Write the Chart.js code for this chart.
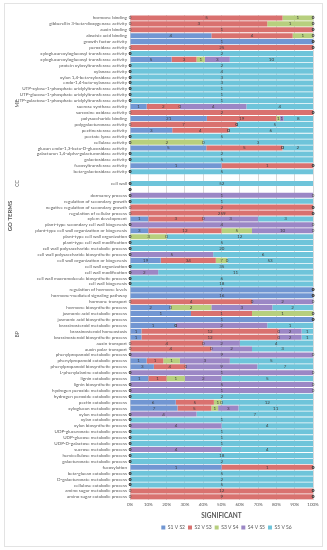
<!DOCTYPE html>
<html>
<head>
<meta charset="utf-8">
<script src="https://cdn.jsdelivr.net/npm/chart.js@4/dist/chart.umd.min.js"></script>
<style>
  body { margin: 0; background: #fff; }
  #wrap { width: 327px; height: 550px; }
</style>
</head>
<body>
<div id="wrap"><canvas id="go_chart" width="327" height="550"></canvas></div>
<script>
var categories = [
    'hormone binding', 'gibberellin 3-beta-dioxygenase activity', 'auxin binding', 'abscisic acid binding',
    'growth factor activity', 'peroxidase activity', 'xyloglucan:xyloglucosyl transferase activity',
    'xyloglucan:xyloglucosyl transferase activity', 'protein xylosyltransferase activity', 'xylanase activity',
    'xylan 1,4-beta-xylosidase activity', 'endo-1,4-beta-xylanase activity',
    'UTP-xylose-1-phosphate uridylyltransferase activity', 'UTP-glucose-1-phosphate uridylyltransferase activity',
    'UTP-galactose-1-phosphate uridylyltransferase activity', 'sucrose synthase activity',
    'sarcosine oxidase activity', 'polysaccharide binding', 'polygalacturonase activity',
    'pectinesterase activity', 'pectate lyase activity', 'cellulase activity',
    'glucan endo-1,3-beta-D-glucosidase activity', 'galacturan 1,4-alpha-galacturonidase activity',
    'galactosidase activity', 'fucosyltransferase activity', 'beta-galactosidase activity',
    '', 'cell wall', '',
    'dormancy process', 'regulation of secondary growth', 'negative regulation of secondary growth',
    'regulation of cellular process', 'xylem development', 'plant-type secondary cell wall biogenesis',
    'plant-type cell wall organization or biogenesis', 'plant-type cell wall organization',
    'plant-type cell wall modification', 'cell wall polysaccharide metabolic process',
    'cell wall polysaccharide biosynthetic process', 'cell wall organization or biogenesis',
    'cell wall organization', 'cell wall modification', 'cell wall macromolecule biosynthetic process',
    'cell wall biogenesis', 'regulation of hormone levels', 'hormone-mediated signaling pathway',
    'hormone transport', 'hormone biosynthetic process', 'jasmonic acid metabolic process',
    'jasmonic acid biosynthetic process', 'brassinosteroid metabolic process', 'brassinosteroid homeostasis',
    'brassinosteroid biosynthetic process', 'auxin transport', 'auxin polar transport',
    'phenylpropanoid metabolic process', 'phenylpropanoid catabolic process',
    'phenylpropanoid biosynthetic process', 'L-phenylalanine catabolic process', 'lignin catabolic process',
    'lignin biosynthetic process', 'hydrogen peroxide metabolic process', 'hydrogen peroxide catabolic process',
    'pectin catabolic process', 'xyloglucan metabolic process', 'xylan metabolic process',
    'xylan catabolic process', 'xylan biosynthetic process', 'UDP-glucuronate metabolic process',
    'UDP-glucose metabolic process', 'UDP-D-galactose metabolic process', 'sucrose metabolic process',
    'hemicellulose metabolic process', 'galacturonate metabolic process', 'fucosylation',
    'beta-glucan catabolic process', 'D-galacturonate metabolic process', 'cellulose catabolic process',
    'amino sugar metabolic process', 'amino sugar catabolic process'
];

// counts per comparison, one entry per category (null = empty spacer row)
var s1_s2 = [0,0,0,4,1,0,0,5,0,0,0,0,0,0,0,1,0,21,0,3,0,0,5,0,0,1,0, null,0,0,
    0,0,0,0,1,0,3,0,0,0,0,19,0,0,0,0,7,16,0,2,1,1,1,1,1,0,0,0,1,3,0,1,0,0,0,6,7,0,0,0,0,0,0,0,0,0,1,0,0,0,0,0];
var s2_s3 = [5,3,1,4,0,25,0,3,0,0,0,0,0,0,0,2,2,19,7,4,0,0,5,0,0,1,0, null,0,0,
    0,0,2,259,3,0,12,0,0,0,0,34,0,0,0,0,0,0,4,0,1,0,0,12,12,4,4,0,1,4,0,1,0,0,0,5,5,0,0,0,0,0,0,0,0,0,1,0,0,0,12,9];
var s3_s4 = [1,1,0,1,0,0,0,1,0,0,0,0,0,0,0,0,0,1,0,0,0,2,0,0,0,0,0, null,0,0,
    0,0,0,0,0,0,5,3,0,0,0,7,0,0,0,0,0,0,0,2,1,0,0,0,0,0,0,0,1,0,0,1,0,0,0,1,1,0,0,0,0,0,0,0,0,0,0,0,0,0,0,0];
var s4_s5 = [0,0,0,0,0,0,0,3,0,0,0,0,0,0,0,4,0,1,0,0,0,0,0,0,0,0,0, null,0,0,
    1,0,0,0,3,4,10,0,0,0,5,0,0,2,0,0,0,0,2,3,0,0,2,2,2,2,2,9,3,9,1,2,5,1,0,0,3,4,0,4,0,0,0,4,0,0,0,0,0,0,0,0];
var s5_s6 = [0,0,0,0,0,0,2,10,2,4,3,3,1,1,1,4,0,8,5,6,5,3,2,2,5,0,5, null,52,0,
    0,1,0,0,3,0,0,12,5,20,6,53,35,11,6,18,0,0,0,2,0,0,1,1,1,4,3,0,5,7,0,5,0,0,2,12,11,7,1,4,1,1,1,4,18,2,0,5,2,5,0,0];

var seriesNames = ['S1 V S2', 'S2 V S3', 'S3 V S4', 'S4 V S5', 'S5 V S6'];
var seriesColors = ['#7196d2', '#d9716f', '#b7cf7e', '#9b87c5', '#6ec4da'];

var groupNames = ['MF', 'CC', 'BP'];
var groupCentreRows = [14.5, 28, 53.5];

function init(){
    var allCounts = [s1_s2, s2_s3, s3_s4, s4_s5, s5_s6];

    // turn counts into row shares so the bars fill 100%
    var totals = categories.map(function(c, j){
        var t = 0;
        allCounts.forEach(function(s){ if (s[j] != null) t += s[j]; });
        return t;
    });
    var datasets = allCounts.map(function(s, i){
        return {
            label: seriesNames[i],
            data: s.map(function(v, j){
                if (v == null) return null;
                return totals[j] ? v / totals[j] * 100 : 0;
            }),
            counts: s,
            backgroundColor: seriesColors[i],
            barPercentage: 0.86,
            categoryPercentage: 1
        };
    });

    var frame = {
        id: 'frame',
        beforeDraw: function(chart){
            var c = chart.ctx;
            c.save();
            c.fillStyle = '#fff';
            c.fillRect(0, 0, chart.width, chart.height);
            c.strokeStyle = '#e3e3e3';
            c.lineWidth = 1;
            c.strokeRect(4.5, 3.5, 318, 543);
            c.restore();

            // legend sits under the plot area, not the whole canvas
            var lg = chart.legend;
            if (lg && !lg._shifted) {
                var shift = (chart.chartArea.left + chart.chartArea.right) / 2 + 5 - (lg.left + lg.right) / 2;
                lg.left += shift;
                lg.right += shift;
                lg._shifted = true;
            }
        }
    };

    var valueLabels = {
        id: 'valueLabels',
        afterDatasetsDraw: function(chart){
            var c = chart.ctx;
            c.save();
            c.font = '4.5px Lato';
            c.fillStyle = '#404040';
            c.textAlign = 'center';
            c.textBaseline = 'middle';
            chart.data.datasets.forEach(function(ds, i){
                var meta = chart.getDatasetMeta(i);
                meta.data.forEach(function(el, j){
                    if (ds.counts[j] == null) return;
                    c.fillText(String(ds.counts[j]), (el.x + el.base) / 2, el.y);
                });
            });
            c.restore();
        }
    };

    var groupLabels = {
        id: 'groupLabels',
        afterDraw: function(chart){
            var c = chart.ctx;
            var y = chart.scales.y;
            c.save();
            c.fillStyle = '#595959';
            c.textAlign = 'center';
            c.textBaseline = 'middle';
            c.font = '5px Lato';
            groupNames.forEach(function(g, i){
                c.save();
                c.translate(17, y.getPixelForValue(groupCentreRows[i]));
                c.rotate(-Math.PI / 2);
                c.fillText(g, 0, 0);
                c.restore();
            });
            c.font = 'bold 6px Lato';
            c.translate(10, y.getPixelForValue(33.5));
            c.rotate(-Math.PI / 2);
            c.fillText('GO TERMS', 0, 0);
            c.restore();
        }
    };

    var ctx = document.getElementById('go_chart').getContext('2d');
    var chart = new Chart(ctx, {
        type: 'bar',
        data: {
            labels: categories,
            datasets: datasets
        },
        options: {
            indexAxis: 'y',
            responsive: false,
            animation: false,
            layout: {
                padding: { left: 6, right: 14, top: 15, bottom: 10 }
            },
            scales: {
                x: {
                    stacked: true,
                    min: 0,
                    max: 100,
                    ticks: {
                        stepSize: 10,
                        color: '#595959',
                        font: { family: 'Lato', size: 4.5 },
                        padding: 2,
                        maxRotation: 0,
                        callback: function(v){ return v + '%'; }
                    },
                    grid: { color: '#d9d9d9', drawTicks: false },
                    border: { display: false },
                    title: {
                        display: true,
                        text: 'SIGNIFICANT',
                        color: '#595959',
                        font: { family: 'Lato', size: 6.5, weight: 'bold' },
                        padding: { top: 3, bottom: 2 }
                    }
                },
                y: {
                    stacked: true,
                    afterFit: function(scale){ scale.width = 124; },
                    ticks: {
                        autoSkip: false,
                        color: '#595959',
                        font: { family: 'Lato', size: 4.6 },
                        padding: 3
                    },
                    grid: { display: false, drawTicks: false },
                    border: { display: false }
                }
            },
            plugins: {
                legend: {
                    position: 'bottom',
                    labels: {
                        boxWidth: 4,
                        boxHeight: 4,
                        padding: 3,
                        color: '#595959',
                        font: { family: 'Lato', size: 5 }
                    }
                },
                tooltip: { enabled: false }
            }
        },
        plugins: [frame, valueLabels, groupLabels]
    });
}

window.onload = init;
</script>
</body>
</html>
